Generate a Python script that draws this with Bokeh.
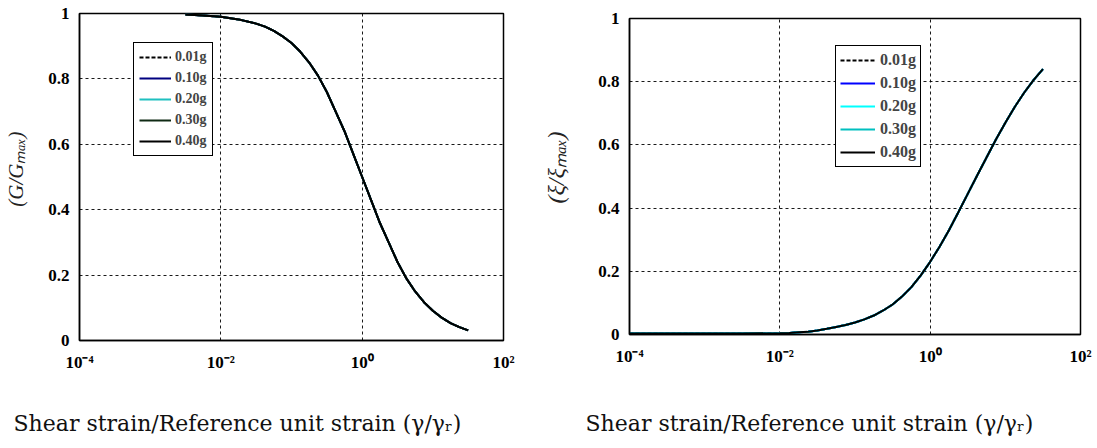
from bokeh.plotting import figure
from bokeh.layouts import row, column
from bokeh.models import Range1d, FixedTicker, CustomJSTickFormatter, Label
from bokeh.embed import file_html
from bokeh.resources import INLINE

# ---------------- data ----------------
pga_labels = ["0.01g", "0.10g", "0.20g", "0.30g", "0.40g"]

# modulus reduction curve: log10(strain ratio) and G/Gmax
g_strain_exp = [-2.5, -2.25, -2.0, -1.75, -1.5, -1.375, -1.25, -1.125, -1.0,
                -0.875, -0.75, -0.625, -0.5, -0.375, -0.25, -0.125, 0.0,
                0.125, 0.25, 0.375, 0.5, 0.625, 0.75, 0.875, 1.0,
                1.125, 1.25, 1.375, 1.5]
g_ratio = [0.997, 0.994, 0.99, 0.982, 0.969, 0.96, 0.947, 0.93, 0.91,
           0.883, 0.85, 0.81, 0.76, 0.70, 0.64, 0.57, 0.50,
           0.43, 0.36, 0.30, 0.24, 0.19, 0.15, 0.117, 0.091,
           0.07, 0.053, 0.041, 0.031]

# damping curve: log10(strain ratio) and xi/xi_max
d_strain_exp = [-4.0, -3.5, -3.0, -2.5, -2.0, -1.875, -1.75, -1.625, -1.5,
                -1.375, -1.25, -1.125, -1.0, -0.875, -0.75, -0.625, -0.5,
                -0.375, -0.25, -0.125, 0.0, 0.125, 0.25, 0.375, 0.5,
                0.625, 0.75, 0.875, 1.0, 1.125, 1.25, 1.375, 1.5]
d_ratio = [0.003, 0.003, 0.003, 0.003, 0.004, 0.005, 0.007, 0.009, 0.013,
           0.018, 0.024, 0.03, 0.038, 0.048, 0.06, 0.076, 0.095,
           0.12, 0.15, 0.187, 0.23, 0.278, 0.33, 0.387, 0.445,
           0.503, 0.56, 0.617, 0.67, 0.72, 0.765, 0.805, 0.84]

x_tick_exp = [-4, -2, 0, 2]
x_tick_labels = ["10\u207b\u2074", "10\u207b\u00b2", "10\u2070", "10\u00b2"]
y_ticks = [0, 0.2, 0.4, 0.6, 0.8, 1.0]
y_tick_labels = ["0", "0.2", "0.4", "0.6", "0.8", "1"]

x_label = "Shear strain/Reference unit strain (\u03b3/\u03b3\u1d63)"
g_ylabel = "\u00a0\u00a0\u00a0(G/G\u2098\u2090\u2093)"
d_ylabel = "\u00a0\u00a0\u00a0(\u03be/\u03be\u2098\u2090\u2093)"

# ---------------- styles ----------------
left_colors = ["black", "#000080", "#1fc0c0", "#0f2a14", "black"]
right_colors = ["black", "#0000ff", "#00ffff", "#00bfbf", "black"]
dashes = ["4 2", "solid", "solid", "solid", "solid"]
SERIF = "Liberation Serif"
CAPTION_FONT = "DejaVu Serif"


def make_fig(width, height, bl, br, bt, bb, ylabel, ylabel_size, ylabel_standoff):
    p = figure(width=width, height=height, x_axis_type="log",
               x_range=Range1d(1e-4, 1e2), y_range=Range1d(0, 1),
               output_backend="svg", toolbar_location=None,
               min_border_left=bl, min_border_right=br,
               min_border_top=bt, min_border_bottom=bb)
    p.xaxis.ticker = FixedTicker(ticks=[10.0 ** e for e in x_tick_exp])
    p.yaxis.ticker = FixedTicker(ticks=y_ticks)
    p.xaxis.formatter = CustomJSTickFormatter(
        args=dict(labels=x_tick_labels, exps=x_tick_exp),
        code="const e = Math.round(Math.log10(tick)); const i = exps.indexOf(e); return i >= 0 ? labels[i] : '';")
    p.yaxis.formatter = CustomJSTickFormatter(
        args=dict(labels=y_tick_labels),
        code="return labels[Math.round(tick * 5)];")
    for ax in (p.xaxis[0], p.yaxis[0]):
        ax.major_label_text_font = SERIF
        ax.major_label_text_font_style = "bold"
        ax.major_label_text_font_size = "17px"
        ax.major_label_text_color = "black"
        ax.major_tick_line_color = None
        ax.minor_tick_line_color = None
        ax.axis_line_color = "black"
        ax.axis_line_width = 1.5
    p.yaxis.major_label_standoff = 4
    p.xaxis.major_label_standoff = 6
    p.yaxis.axis_label = ylabel
    p.yaxis.axis_label_text_font = SERIF
    p.yaxis.axis_label_text_font_style = "italic"
    p.yaxis.axis_label_text_font_size = ylabel_size
    p.yaxis.axis_label_text_color = "#222222"
    p.yaxis.axis_label_standoff = ylabel_standoff
    for g in (p.xgrid[0], p.ygrid[0]):
        g.grid_line_color = "black"
        g.grid_line_dash = "3 3"
        g.grid_line_width = 1
        g.grid_line_alpha = 0.9
    p.outline_line_color = "black"
    p.outline_line_width = 1.5
    p.background_fill_color = "white"
    p.border_fill_color = "white"
    return p


def style_legend(lg, loc, size, gw, gh, sp, pad, st):
    lg.location = loc
    lg.label_text_font = SERIF
    lg.label_text_font_style = "bold"
    lg.label_text_font_size = size
    lg.glyph_width = gw
    lg.glyph_height = gh
    lg.label_height = gh
    lg.spacing = sp
    lg.padding = pad
    lg.margin = 0
    lg.label_standoff = st
    lg.border_line_color = "black"
    lg.border_line_width = 1
    lg.border_line_alpha = 1
    lg.background_fill_alpha = 1


def caption_fig(width, height, x0, base):
    t = figure(width=width, height=height, x_range=Range1d(0, width), y_range=Range1d(0, height),
               output_backend="svg", toolbar_location=None,
               x_axis_location=None, y_axis_location=None, min_border=0)
    t.grid.visible = False
    t.outline_line_color = None
    t.add_layout(Label(x=x0, y=base, x_units="screen", y_units="screen", text=x_label,
                       text_align="left", text_baseline="alphabetic",
                       text_font=CAPTION_FONT, text_font_size="22px", text_color="#111111"))
    return t


# ---------------- left: modulus reduction ----------------
p1 = make_fig(540, 376, 79, 37, 13, 36, g_ylabel, "21px", 17)
gx = [10.0 ** e for e in g_strain_exp]
for lab, col, dsh in zip(pga_labels, left_colors, dashes):
    p1.line(gx, g_ratio, line_color=col, line_width=2, line_dash=dsh, legend_label=lab)
style_legend(p1.legend[0], (54, 184), "14px", 32, 18, 3, 5, 4)
t1 = caption_fig(540, 64, 13, 17)

# ---------------- right: damping ----------------
p2 = make_fig(555, 372, 82, 15, 18, 38, d_ylabel, "24px", 26)
dx = [10.0 ** e for e in d_strain_exp]
for lab, col, dsh in zip(pga_labels, right_colors, dashes):
    p2.line(dx, d_ratio, line_color=col, line_width=2, line_dash=dsh, legend_label=lab)
style_legend(p2.legend[0], (206, 167), "16px", 35, 20, 3, 4, 5)
t2 = caption_fig(555, 68, 45, 17)

layout = row(column(p1, row(t1), spacing=0), column(p2, row(t2), spacing=0), spacing=0)
open("out.html", "w").write(file_html(layout, INLINE))
